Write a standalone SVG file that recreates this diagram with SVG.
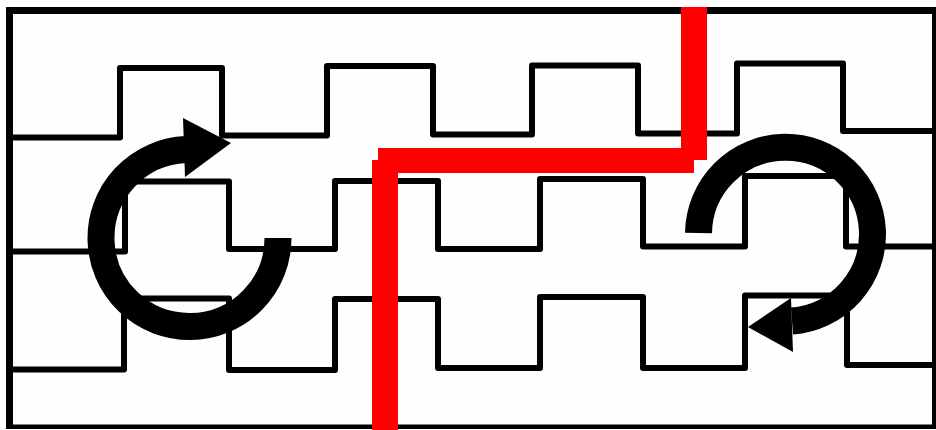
<svg xmlns="http://www.w3.org/2000/svg" width="936" height="430" viewBox="0 0 936 430">
  <style>
    .wave { fill: none; stroke: #000; stroke-width: 6; stroke-linejoin: round; }
    .turn { fill: none; stroke: #000; stroke-width: 27; stroke-linecap: butt; }
    .head { fill: #000; }
  </style>
  <rect width="936" height="430" fill="#fff"/>
  <rect x="9.5" y="10.5" width="924.5" height="415.5" fill="#fefefe"/>
  <path id="frame" fill="#000" fill-rule="evenodd" d="M6 7H936V429H6ZM13 14V424.5H932V14Z"/>
  <g id="signals">
    <path id="wave-1" class="wave" d="M12 137.5H120V68H222V135.5H327V66H433V134.5H532V65.5H638V133.5H737V63.5H843V131H932"/>
    <path id="wave-2" class="wave" d="M12 251.5H125V181.5H229V249H335V181H438V249H540V179H643V246.5H745V176H846V246.5H932"/>
    <path id="wave-3" class="wave" d="M12 369.5H124V298.5H229V370H335V299H438V368H540V297H643V368H745V295.5H847V365H932"/>
  </g>
  <polygon id="red-path" fill="#fe0000" points="372,430 372,160 378,160 378,148 681,148 681,7 707,7 707,160 694,160 694,173 398,173 398,430"/>
  <g id="arrow-left">
    <path class="turn" d="M278 238A88.5 88.5 0 1 1 186 149.6"/>
    <polygon class="head" points="183,118 231,143 185,177"/>
  </g>
  <g id="arrow-right">
    <path class="turn" d="M698.5 233A87 87 0 1 1 792 321"/>
    <polygon class="head" points="748,327 791,298 793,352"/>
  </g>
</svg>
